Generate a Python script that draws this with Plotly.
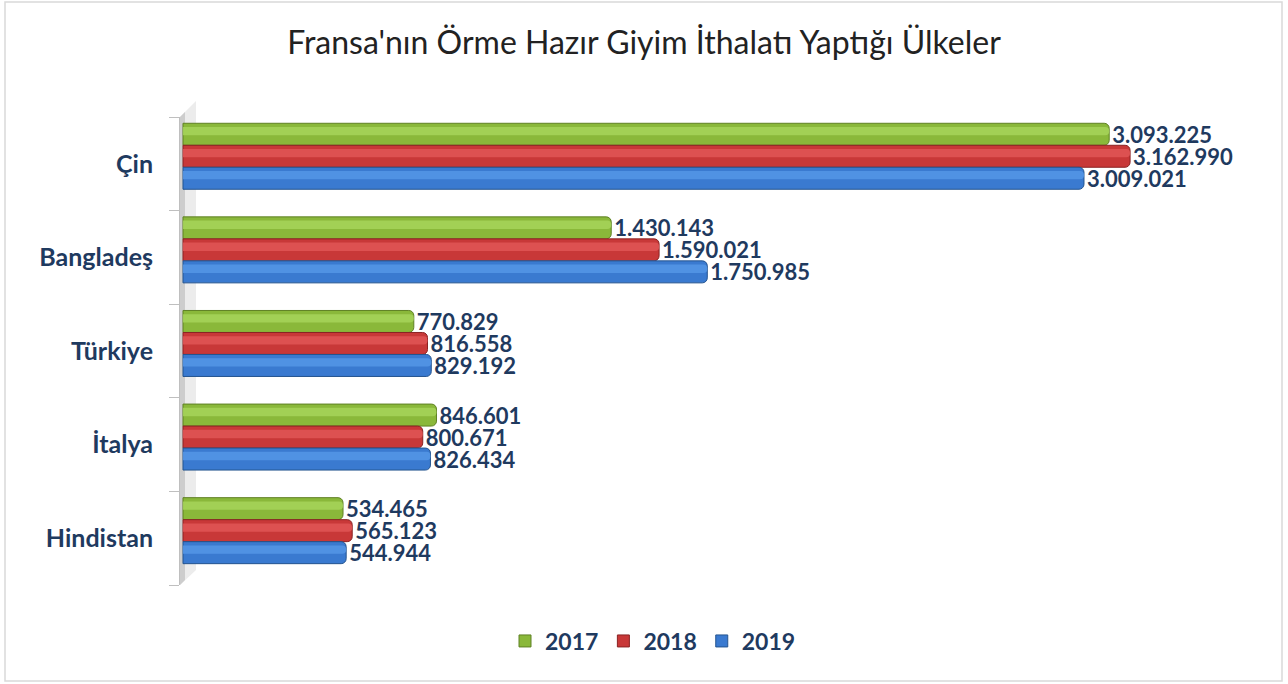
import plotly.graph_objects as go

# ---- data ----
countries = ["Hindistan", "İtalya", "Türkiye", "Bangladeş", "Çin"]  # bottom -> top
years = ["2017", "2018", "2019"]
v2017 = [534465, 846601, 770829, 1430143, 3093225]
v2018 = [565123, 800671, 816558, 1590021, 3162990]
v2019 = [544944, 826434, 829192, 1750985, 3009021]

series = {"2017": v2017, "2018": v2018, "2019": v2019}
colors = {"2017": "#8AB83A", "2018": "#C83838", "2019": "#3A7AD0"}
light = {"2017": "#A6D45A", "2018": "#E05656", "2019": "#5596E6"}
edge = {"2017": "#5F8124", "2018": "#8A2323", "2019": "#24548F"}
offsets = {"2017": 0.198, "2018": -0.037, "2019": -0.272}
BW = 0.235

W, H = 1288, 684
L, R, T, B = 180, 57, 117, 99
PW, PH = W - L - R, H - T - B

def px(x):
    return (x - L) / PW

def py(y):
    return (H - B - y) / PH

NAVY = "#1F3A5F"
FONT = "Lato"

fig = go.Figure()

for yr in years:
    fig.add_trace(go.Bar(
        name=yr, x=series[yr], y=countries, orientation="h",
        offset=offsets[yr], width=BW,
        marker=dict(color=colors[yr], line=dict(color=edge[yr], width=1), cornerradius=5),
        texttemplate="%{x:,}", textposition="outside", constraintext="none",
        cliponaxis=False,
        textfont=dict(family=FONT, size=22, color=NAVY, weight="bold"),
        hoverinfo="x+name", showlegend=False,
    ))
    # highlight strip for a 3D look
    fig.add_trace(go.Bar(
        x=series[yr], y=countries, orientation="h",
        offset=offsets[yr] + BW * 0.45, width=BW * 0.38,
        marker=dict(color=light[yr], line=dict(width=0), cornerradius=4, opacity=0.85),
        showlegend=False, hoverinfo="skip",
    ))

# legend entries (square swatches)
for yr in years:
    fig.add_trace(go.Bar(
        name=yr, x=[None], y=[None], orientation="h",
        marker=dict(color=colors[yr], line=dict(color=edge[yr], width=1)),
        showlegend=True, hoverinfo="skip",
    ))

# side wall (pseudo 3D)
wall = (f"M {px(180)} {py(585)} L {px(180)} {py(117)} L {px(196)} {py(101)} "
        f"L {px(196)} {py(570)} Z")
wall_dark = (f"M {px(180)} {py(585)} L {px(180)} {py(117)} L {px(185)} {py(112)} "
             f"L {px(185)} {py(580)} Z")
shapes = [
    dict(type="path", path=wall, xref="paper", yref="paper",
         fillcolor="#ececec", line=dict(width=0), layer="below"),
    dict(type="path", path=wall_dark, xref="paper", yref="paper",
         fillcolor="#cdcdcd", line=dict(width=0), layer="below"),
    # chart border
    dict(type="rect", xref="paper", yref="paper",
         x0=px(5), x1=px(1282), y0=py(681), y1=py(2),
         line=dict(color="#d9d9d9", width=1.5), fillcolor="rgba(0,0,0,0)", layer="below"),
]

fig.update_layout(
    width=W, height=H,
    margin=dict(l=L, r=R, t=T, b=B),
    paper_bgcolor="white", plot_bgcolor="white",
    separators=",.",
    barmode="overlay",
    title=dict(text="Fransa'nın Örme Hazır Giyim İthalatı Yaptığı Ülkeler",
               x=0.5, xref="container", xanchor="center",
               y=1 - 43 / H, yref="container", yanchor="middle",
               font=dict(family=FONT, size=32, color="#222222")),
    xaxis=dict(range=[-10000, 3500000], visible=False, showgrid=False, zeroline=False),
    yaxis=dict(type="category", categoryorder="array", categoryarray=countries,
               tickson="boundaries", ticks="outside", ticklen=10, tickcolor="#bfbfbf",
               showline=True, linecolor="#bfbfbf", linewidth=1,
               showgrid=False, ticklabelstandoff=21,
               tickfont=dict(family=FONT, size=25, color=NAVY, weight="bold")),
    legend=dict(orientation="h", x=px(653), xanchor="center", y=py(641), yanchor="middle",
                font=dict(family=FONT, size=23, color=NAVY, weight="bold"),
                traceorder="normal", itemwidth=30),
    shapes=shapes,
    showlegend=True,
)

fig.write_html("out.html", config={"displayModeBar": False},
               post_script="document.body.style.margin='0';")
